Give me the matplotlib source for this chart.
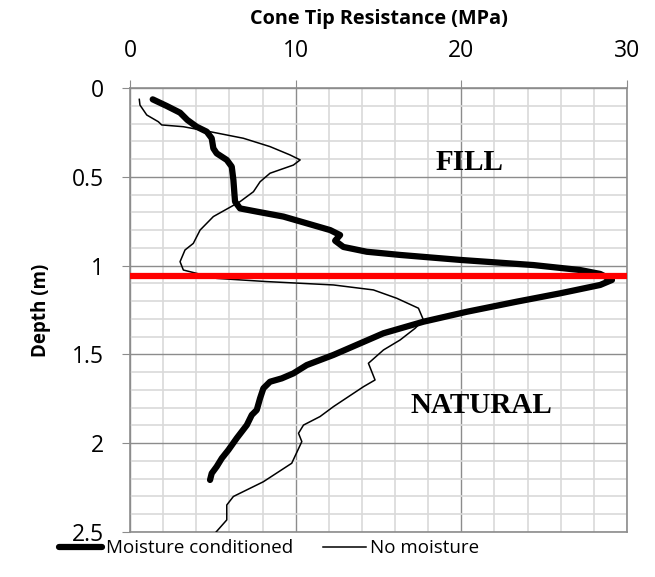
import numpy as np
import matplotlib
matplotlib.use('Agg')
import matplotlib.pyplot as plt
from matplotlib.ticker import MultipleLocator

# Moisture conditioned (thick)
mc_q = [1.37, 2.21, 3.02, 3.46, 4.02, 4.63, 4.93, 5.03, 5.23, 5.84, 6.14, 6.24, 6.30, 6.34,
        6.64, 7.65, 9.26, 10.67, 12.08, 12.68, 12.38, 12.88, 14.29, 16.30, 19.93, 24.35,
        27.17, 28.38, 29.09, 28.38, 25.97, 23.35, 20.33, 17.71, 15.30, 13.89, 12.28, 10.67,
        9.86, 9.16, 8.45, 8.05, 7.85, 7.65, 7.35, 7.05, 6.44, 5.94, 5.54, 5.23, 4.93, 4.83]
mc_d = [0.064, 0.101, 0.139, 0.180, 0.218, 0.246, 0.283, 0.340, 0.368, 0.405, 0.443, 0.518,
        0.593, 0.640, 0.678, 0.696, 0.724, 0.762, 0.800, 0.828, 0.860, 0.895, 0.922, 0.940,
        0.968, 0.997, 1.025, 1.047, 1.081, 1.109, 1.156, 1.203, 1.260, 1.316, 1.381, 1.438,
        1.503, 1.560, 1.607, 1.635, 1.654, 1.691, 1.747, 1.813, 1.841, 1.898, 1.972, 2.038,
        2.085, 2.132, 2.170, 2.207]

# No moisture (thin)
nm_q = [0.56, 0.60, 1.01, 1.71, 1.91, 3.22, 4.83, 6.84, 8.45, 9.66, 10.27, 9.86, 8.45, 7.85,
        7.45, 6.64, 5.03, 4.23, 3.82, 3.32, 3.02, 3.22, 5.23, 8.25, 12.28, 14.69, 16.10,
        17.41, 17.71, 17.21, 16.30, 15.30, 14.39, 14.79, 14.09, 12.28, 11.47, 10.47, 10.17,
        10.37, 9.76, 8.05, 6.24, 5.84, 5.84, 5.13]
nm_d = [0.064, 0.096, 0.152, 0.190, 0.208, 0.218, 0.246, 0.283, 0.330, 0.377, 0.405, 0.434,
        0.480, 0.528, 0.584, 0.640, 0.724, 0.800, 0.875, 0.912, 0.978, 1.025, 1.072, 1.090,
        1.109, 1.137, 1.184, 1.240, 1.306, 1.353, 1.419, 1.475, 1.550, 1.644, 1.682, 1.794,
        1.850, 1.898, 1.944, 1.991, 2.113, 2.217, 2.300, 2.348, 2.432, 2.507]

boundary_depth = 1.06

fig = plt.figure(figsize=(6.55, 5.77), dpi=100)
ax = fig.add_axes([0.1985, 0.078, 0.7588, 0.7695])

ax.plot(mc_q, mc_d, color='black', lw=4.5, solid_capstyle='round', label='Moisture conditioned', zorder=3)
ax.plot(nm_q, nm_d, color='black', lw=1.1, label='No moisture', zorder=3)
ax.plot([0, 30], [boundary_depth, boundary_depth], color='#ff0000', lw=4.5, zorder=4)

ax.set_xlim(0, 30)
ax.set_ylim(2.5, 0)
ax.xaxis.set_major_locator(MultipleLocator(10))
ax.xaxis.set_minor_locator(MultipleLocator(2))
ax.yaxis.set_major_locator(MultipleLocator(0.5))
ax.yaxis.set_minor_locator(MultipleLocator(0.1))
ax.yaxis.set_major_formatter(plt.FuncFormatter(lambda v, p: '%g' % v))
ax.xaxis.tick_top()
ax.xaxis.set_label_position('top')

ax.grid(which='minor', color='#d9d9d9', lw=1.2, zorder=0)
ax.grid(which='major', color='#8c8c8c', lw=1.0, zorder=0)
ax.set_axisbelow(True)
for s in ax.spines.values():
    s.set_color('#8c8c8c')
    s.set_linewidth(1.2)

ax.tick_params(which='major', direction='out', length=5.5, color='#8c8c8c', labelsize=16.5)
ax.tick_params(axis='x', which='major', pad=12.5)
ax.tick_params(axis='y', which='major', pad=13.5)
ax.tick_params(which='minor', length=0)
for lab in ax.get_xticklabels() + ax.get_yticklabels():
    lab.set_fontfamily('Open Sans')

ax.set_xlabel('Cone Tip Resistance (MPa)', fontsize=14.3, fontweight='bold', family='Open Sans', labelpad=11)
ax.set_ylabel('Depth (m)', fontsize=13.5, fontweight='bold', family='Open Sans', labelpad=15)

ax.text(20.5, 0.42, 'FILL', fontsize=21, fontweight='bold', family='Liberation Serif', ha='center', va='center')
ax.text(21.2, 1.79, 'NATURAL', fontsize=21, fontweight='bold', family='Liberation Serif', ha='center', va='center')

leg = fig.legend(loc='center left', bbox_to_anchor=(0.076, 0.05), ncol=2, frameon=False,
                 borderpad=0, handlelength=2.3, handletextpad=0.2, columnspacing=1.6,
                 prop={'family': 'Open Sans', 'size': 13.5})

fig.savefig('out.png', dpi=100)
